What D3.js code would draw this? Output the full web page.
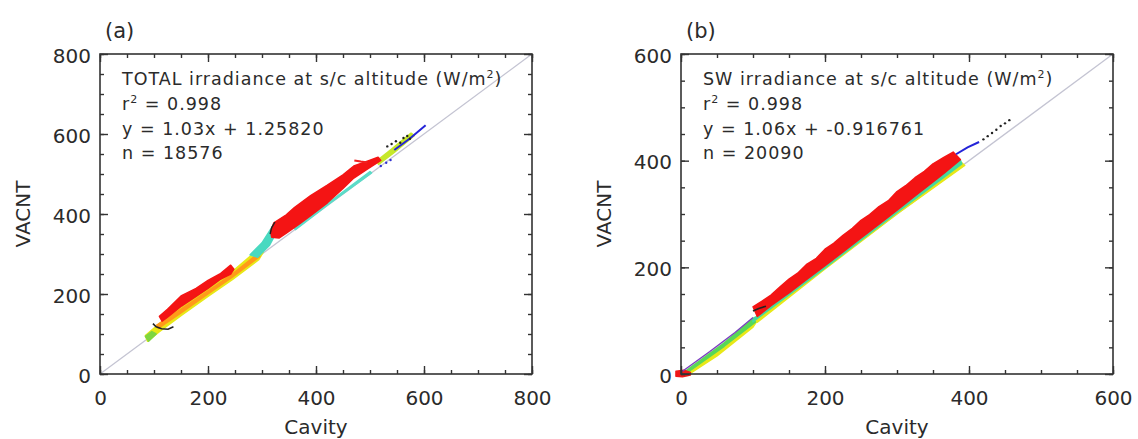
<!DOCTYPE html>
<html>
<head>
<meta charset="utf-8">
<script src="https://cdn.jsdelivr.net/npm/d3@7"></script>
<style>
  body { margin: 0; background: #fff; }
  text { font-family: "DejaVu Sans", sans-serif; fill: #2b2b2b; }
</style>
</head>
<body>
<div id="chart"></div>
<script>
// ---- tick labels ----
var ticksA = [0, 200, 400, 600, 800];
var ticksB = [0, 200, 400, 600];

// ---- annotation text ----
var titleA = "TOTAL irradiance at s/c altitude (W/m";
var titleB = "SW irradiance at s/c altitude (W/m";
var r2A = "0.998", fitA = "y = 1.03x + 1.25820", nA = "n = 18576";
var r2B = "0.998", fitB = "y = 1.06x + -0.916761", nB = "n = 20090";

// ---- panel (a) point clouds, [Cavity, VACNT] outlines ----
var aYellowLow = [[84,96],[110,126],[150,166],[200,216],[245,256],[290,308],[302,304],[294,286],[245,236],[200,194],[150,146],[110,106],[88,82]];
var aOrangeLow = [[105,122],[150,162],[200,208],[245,250],[292,300],[296,294],[245,242],[200,200],[150,153],[108,114]];
var aGreenLow = [[84,94],[96,106],[104,100],[90,82]];
var aCyanMid = [[278,298],[300,328],[320,370],[332,368],[314,322],[292,292]];
var aRedLow = [[110,144],[125,162],[151,196],[178,214],[200,234],[222,250],[242,272],[248,262],[242,250],[222,236],[200,214],[178,194],[151,170],[125,142],[115,132]];
var aBlackLow = [[98,126],[104,118],[114,113],[126,112],[136,118]];
var aRedHigh = [[316,356],[322,378],[345,398],[360,416],[390,446],[421,472],[450,498],[470,520],[495,532],[515,542],[520,534],
                [495,512],[470,490],[450,464],[421,428],[390,396],[370,376],[345,352],[332,340],[318,342]];
var aBlackHigh = [[315,350],[318,366],[324,380]];
var aCyanHigh = [[360,364],[421,426],[500,506],[503,503],[421,422],[362,361]];
var aYellowHigh = [[512,532],[540,562],[576,602],[582,596],[545,554],[516,524]];
var aBlueHigh = [[545,560],[575,590],[603,622]];
var aRedStreak = [[471,534],[483,531],[495,529]];
var aBlackDots = [[532,569],[540,575],[548,582],[556,578],[562,590],[569,595],[574,588]];
var aBlueDots = [[520,520],[530,528],[538,535]];

// ---- panel (b) point clouds ----
var bRedOrigin = [[-7,-4],[-7,5],[4,7],[13,3],[13,-2],[2,-5]];
var bYellowLow = [[8,-3],[50,34],[100,88],[106,100],[60,52],[10,3]];
var bGreenLow = [[8,2],[60,52],[106,100],[102,106],[60,58],[8,7]];
var bPurpleLow = [[2,5],[40,42],[75,78],[100,106]];
var bBlackLow = [[100,118],[108,123],[118,127]];
var bRed = [[100,126],[112,136],[125,148],[138,164],[150,178],[162,189],[175,206],[188,217],[200,234],[212,245],[225,260],[238,273],
            [250,288],[262,299],[275,314],[288,325],[300,342],[312,353],[325,368],[338,380],[350,394],[365,406],[378,416],
            [388,402],[365,376],[350,360],[325,334],[300,307],[275,281],[250,255],[225,229],[200,203],[175,178],[150,152],[125,128],[106,108]];
var bGreen = [[100,103],[200,205],[300,310],[388,401],[390,394],[300,303],[200,199],[100,98]];
var bYellow = [[104,101],[200,201],[300,305],[390,396],[394,391],[300,300],[200,197],[106,97]];
var bBlue = [[382,412],[398,425],[414,435]];
var bBlackDots = [[420,440],[426,446],[432,452],[438,458],[444,465],[450,470],[456,476]];

var W = 1138, H = 439;
var svg = d3.select('#chart').append('svg')
  .attr('width', W).attr('height', H);

function drawPanel(opt) {
  var x = d3.scaleLinear().domain([0, opt.max]).range([opt.left, opt.left + 432]);
  var y = d3.scaleLinear().domain([0, opt.max]).range([374, 54]);
  var g = svg.append('g');
  var minor = d3.range(0, opt.max + 1, 50);

  // clip so clouds stay in the box
  var clipId = 'clip' + opt.tag;
  svg.append('clipPath').attr('id', clipId)
    .append('rect').attr('x', opt.left - 6).attr('y', 54).attr('width', 438).attr('height', 326);

  var plot = g.append('g').attr('clip-path', 'url(#' + clipId + ')');

  // 1:1 line
  plot.append('line')
    .attr('x1', x(0)).attr('y1', y(0)).attr('x2', x(opt.max)).attr('y2', y(opt.max))
    .attr('stroke', '#c4c4d2').attr('stroke-width', 1.3);

  var line = d3.line().x(function(d) { return x(d[0]); }).y(function(d) { return y(d[1]); });

  opt.clouds.forEach(function(c) {
    plot.append('path')
      .attr('d', line(c.pts) + 'Z')
      .attr('fill', c.color).attr('stroke', c.color).attr('stroke-width', 1.5)
      .attr('stroke-linejoin', 'round');
  });
  opt.lines.forEach(function(c) {
    plot.append('path')
      .attr('d', line(c.pts))
      .attr('fill', 'none').attr('stroke', c.color).attr('stroke-width', c.w || 1.6);
  });
  opt.dots.forEach(function(c) {
    plot.selectAll(null).data(c.pts).enter().append('circle')
      .attr('cx', function(d) { return x(d[0]); })
      .attr('cy', function(d) { return y(d[1]); })
      .attr('r', 1.2).attr('fill', c.color);
  });

  // box
  g.append('rect').attr('x', opt.left).attr('y', 54).attr('width', 432).attr('height', 320)
    .attr('fill', 'none').attr('stroke', '#333').attr('stroke-width', 1.6);

  // ticks, inward on all four sides
  function tickAxis(axis, transform, size, vals, labels) {
    var a = g.append('g').attr('transform', transform)
      .call(axis.tickValues(vals).tickSizeInner(size).tickSizeOuter(0).tickPadding(labels ? 12 : 0)
        .tickFormat(labels ? d3.format('d') : ''));
    a.select('.domain').remove();
    a.selectAll('line').attr('stroke', '#333').attr('stroke-width', 1.4);
    return a;
  }
  var bx = tickAxis(d3.axisBottom(x), 'translate(0,374)', -8, opt.ticks, true);
  bx.selectAll('text').attr('font-size', 20).attr('fill', '#2b2b2b').attr('font-family', '"DejaVu Sans", sans-serif').attr('dy', '0.95em');
  tickAxis(d3.axisBottom(x), 'translate(0,374)', -4, minor, false);
  tickAxis(d3.axisTop(x), 'translate(0,54)', -8, opt.ticks, false);
  tickAxis(d3.axisTop(x), 'translate(0,54)', -4, minor, false);
  var ly = tickAxis(d3.axisLeft(y), 'translate(' + opt.left + ',0)', -8, opt.ticks, true);
  ly.selectAll('text').attr('font-size', 20).attr('fill', '#2b2b2b').attr('font-family', '"DejaVu Sans", sans-serif').attr('x', -9).attr('dy', '0.4em');
  tickAxis(d3.axisLeft(y), 'translate(' + opt.left + ',0)', -4, minor, false);
  tickAxis(d3.axisRight(y), 'translate(' + (opt.left + 432) + ',0)', -8, opt.ticks, false);
  tickAxis(d3.axisRight(y), 'translate(' + (opt.left + 432) + ',0)', -4, minor, false);

  // axis titles
  g.append('text').attr('x', opt.left + 216).attr('y', 434).attr('text-anchor', 'middle')
    .attr('font-size', 20).text('Cavity');
  g.append('text').attr('transform', 'translate(' + (opt.left - 70) + ',214) rotate(-90)')
    .attr('text-anchor', 'middle').attr('font-size', 20).text('VACNT');

  // panel letter
  g.append('text').attr('x', opt.left + 5).attr('y', 38).attr('font-size', 21).text(opt.letter);

  // annotation
  var ax = opt.left + 22;
  var t1 = g.append('text').attr('x', ax).attr('y', 85).attr('font-size', 17.5).attr('letter-spacing', 1);
  t1.append('tspan').text(opt.title);
  t1.append('tspan').attr('font-size', 11).attr('dy', -7).text('2');
  t1.append('tspan').attr('dy', 7).text(')');
  var t2 = g.append('text').attr('x', ax).attr('y', 110).attr('font-size', 17.5).attr('letter-spacing', 1);
  t2.append('tspan').text('r');
  t2.append('tspan').attr('font-size', 11).attr('dy', -7).text('2');
  t2.append('tspan').attr('dy', 7).text(' = ' + opt.r2);
  g.append('text').attr('x', ax).attr('y', 135).attr('font-size', 17.5).attr('letter-spacing', 1).text(opt.fit);
  g.append('text').attr('x', ax).attr('y', 159).attr('font-size', 17.5).attr('letter-spacing', 1).text(opt.n);
}

drawPanel({
  tag: 'a', left: 100, max: 800, ticks: ticksA, letter: '(a)',
  title: titleA, r2: r2A, fit: fitA, n: nA,
  clouds: [
    { pts: aYellowLow, color: '#e8e817' },
    { pts: aGreenLow, color: '#7fd640' },
    { pts: aOrangeLow, color: '#ff9a1a' },
    { pts: aCyanMid, color: '#49d9c0' },
    { pts: aRedLow, color: '#f41414' },
    { pts: aCyanHigh, color: '#5cdcc8' },
    { pts: aYellowHigh, color: '#c6e82a' },
    { pts: aRedHigh, color: '#f41414' }
  ],
  lines: [
    { pts: aBlackLow, color: '#222' },
    { pts: aBlackHigh, color: '#222', w: 1.4 },
    { pts: aBlueHigh, color: '#2424d8', w: 2 },
    { pts: aRedStreak, color: '#f02020', w: 2 }
  ],
  dots: [
    { pts: aBlackDots, color: '#222' },
    { pts: aBlueDots, color: '#3030d0' }
  ]
});

drawPanel({
  tag: 'b', left: 681, max: 600, ticks: ticksB, letter: '(b)',
  title: titleB, r2: r2B, fit: fitB, n: nB,
  clouds: [
    { pts: bYellowLow, color: '#e8e817' },
    { pts: bGreenLow, color: '#58d858' },
    { pts: bYellow, color: '#e8e817' },
    { pts: bGreen, color: '#45d8a0' },
    { pts: bRedOrigin, color: '#f01818' },
    { pts: bRed, color: '#f41414' }
  ],
  lines: [
    { pts: bPurpleLow, color: '#7a3cc0', w: 1.3 },
    { pts: bBlackLow, color: '#222' },
    { pts: bBlue, color: '#2424d8', w: 2 }
  ],
  dots: [
    { pts: bBlackDots, color: '#222' }
  ]
});
</script>
</body>
</html>
